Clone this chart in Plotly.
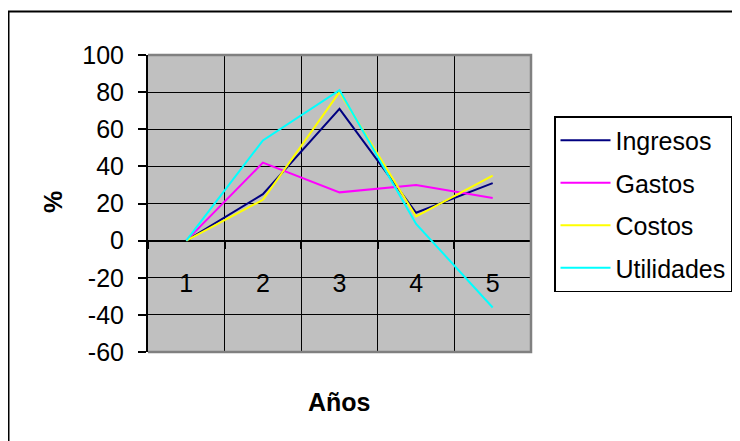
import plotly.graph_objects as go

years = ["1", "2", "3", "4", "5"]
ingresos = [0, 25, 71, 15, 31]
gastos = [0, 42, 26, 30, 23]
costos = [0, 22, 80, 13, 35]
utilidades = [0, 54, 81, 9, -36]
y_ticks = [-60, -40, -20, 0, 20, 40, 60, 80, 100]

series = [
    ("Ingresos", ingresos, "#000080"),
    ("Gastos", gastos, "#FF00FF"),
    ("Costos", costos, "#FFFF00"),
    ("Utilidades", utilidades, "#00FFFF"),
]

FONT = "Liberation Sans, Arial, sans-serif"
FS = 25

fig = go.Figure()
for name, vals, col in series:
    fig.add_trace(go.Scatter(
        x=years, y=vals, name=name, mode="lines",
        line=dict(color=col, width=2), legendgroup=name,
    ))

# page offset (body margin) compensation
OX, OY = 8, 8
W, H = 740, 441
# plot area in screen pixels of the reference
SL, SR, ST, SB = 148, 531, 55, 352
L = SL - OX
T = ST - OY
pw = SR - SL
ph = SB - ST
R = W - L - pw
B = H - T - ph

def px_x(p):
    return (p - SL) / pw

def px_y(p):
    return (SB - p) / ph

ymin, ymax = -60, 100
zero_frac = (0 - ymin) / (ymax - ymin)

fig.update_layout(
    width=W, height=H,
    margin=dict(l=L, r=R, t=T, b=B),
    paper_bgcolor="white",
    plot_bgcolor="#C0C0C0",
    font=dict(family=FONT, size=FS, color="black"),
    showlegend=True,
    legend=dict(
        x=px_x(554), y=px_y(116), xanchor="left", yanchor="top",
        bgcolor="white", bordercolor="black", borderwidth=1.5,
        font=dict(family=FONT, size=FS, color="black"),
        tracegroupgap=7, traceorder="grouped",
        itemwidth=50,
    ),
    xaxis=dict(
        type="category", range=[-0.5, 4.5],
        anchor="free", position=zero_frac,
        tickson="boundaries", ticks="outside", ticklen=7, tickwidth=1.5,
        tickcolor="black",
        showgrid=True, gridcolor="black", gridwidth=1,
        showline=False, zeroline=False,
        tickfont=dict(family=FONT, size=FS, color="black"),
        ticklabelstandoff=25,
    ),
    yaxis=dict(
        range=[ymin, ymax],
        tickvals=y_ticks, ticktext=[str(v) for v in y_ticks],
        ticks="outside", ticklen=8, tickwidth=1.5, tickcolor="black",
        showgrid=True, gridcolor="black", gridwidth=1,
        zeroline=True, zerolinecolor="black", zerolinewidth=2,
        showline=True, linecolor="black", linewidth=2,
        tickfont=dict(family=FONT, size=FS, color="black"),
        ticklabelstandoff=9,
    ),
)

# plot area border (gray) on top, right, bottom
fig.add_shape(type="path", xref="paper", yref="paper",
              path="M 0,1 L 1,1 L 1,0 L 0,0",
              line=dict(color="#808080", width=2.5), layer="above")

# outer chart border
fig.add_shape(type="rect", xref="paper", yref="paper",
              x0=px_x(8.5), x1=px_x(770), y0=px_y(470), y1=px_y(11.5),
              line=dict(color="black", width=2), layer="below")

fig.add_annotation(text="<b>%</b>", xref="paper", yref="paper",
                   x=px_x(53), y=px_y(202), textangle=-90, showarrow=False,
                   xanchor="center", yanchor="middle",
                   font=dict(family=FONT, size=FS, color="black"))
fig.add_annotation(text="<b>Años</b>", xref="paper", yref="paper",
                   x=px_x(339), y=px_y(402), showarrow=False,
                   xanchor="center", yanchor="middle",
                   font=dict(family=FONT, size=FS, color="black"))

fig.write_html("out.html")
